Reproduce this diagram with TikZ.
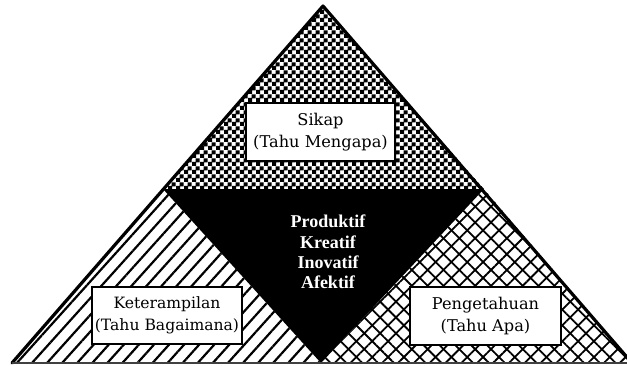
\documentclass[tikz,border=0pt]{standalone}
\usepackage{fontspec}
\setmainfont{DejaVu Serif}
\newfontfamily\midfont{Liberation Serif}
\usetikzlibrary{patterns,patterns.meta}
\pgfdeclarepatternformonly{mychecker}{\pgfpointorigin}{\pgfqpoint{4pt}{4pt}}{\pgfqpoint{4pt}{4pt}}{%
  \pgfpathrectangle{\pgfpointorigin}{\pgfqpoint{2.3pt}{2.3pt}}%
  \pgfpathrectangle{\pgfqpoint{2pt}{2pt}}{\pgfqpoint{2.3pt}{2.3pt}}%
  \pgfusepath{fill}}
\tikzset{
  labelbox/.style={draw=black,line width=0.7pt,fill=white,align=center,inner sep=0pt,
    font=\fontsize{8.1}{11}\selectfont},
  midtext/.style={text=white,align=center,font=\midfont\bfseries\fontsize{9}{10.2}\selectfont},
  edge/.style={line width=1.6pt,line join=round,line cap=round},
}
\begin{document}
\begin{tikzpicture}[x=0.5pt,y=-0.5pt]
\useasboundingbox (0,0) rectangle (627,365);
\begin{scope}
\clip (0,0) rectangle (627,365);
\coordinate (A) at (323,6);
\coordinate (L) at (12,363);
\coordinate (R) at (632,363);
\coordinate (ML) at (163,189);
\coordinate (MR) at (484,189);
\coordinate (B) at (321,363);
% top region
\fill[pattern=mychecker] (A) -- (ML) -- (MR) -- cycle;
% middle black
\fill[black] (ML) -- (MR) -- (B) -- cycle;
% left hatch
\fill[pattern={Lines[angle=48,distance=5.6pt,line width=1.1pt]}] (ML) -- (B) -- (L) -- cycle;
% right crosshatch
\fill[pattern={Lines[angle=45,distance=5.6pt,line width=0.9pt]}] (MR) -- (R) -- (B) -- cycle;
\fill[pattern={Lines[angle=-45,distance=5.6pt,line width=0.9pt]}] (MR) -- (R) -- (B) -- cycle;
% outline
\draw[edge] (L) -- (A) -- (R);
\draw[black!75,line width=0.8pt] (L) -- (R);
\end{scope}
\node[labelbox,minimum width=74.5pt,minimum height=29pt] (sikap) at (320.5,132) {Sikap\\(Tahu Mengapa)};
\node[labelbox,minimum width=75pt,minimum height=28.5pt,font=\fontsize{7.8}{11}\selectfont] (ket) at (167,315.5) {Keterampilan\\(Tahu Bagaimana)};
\node[labelbox,minimum width=75.5pt,minimum height=29pt] (peng) at (485.5,316) {Pengetahuan\\(Tahu Apa)};
\node[midtext] (mid) at (328,252) {Produktif\\Kreatif\\Inovatif\\Afektif};
\end{tikzpicture}
\end{document}
